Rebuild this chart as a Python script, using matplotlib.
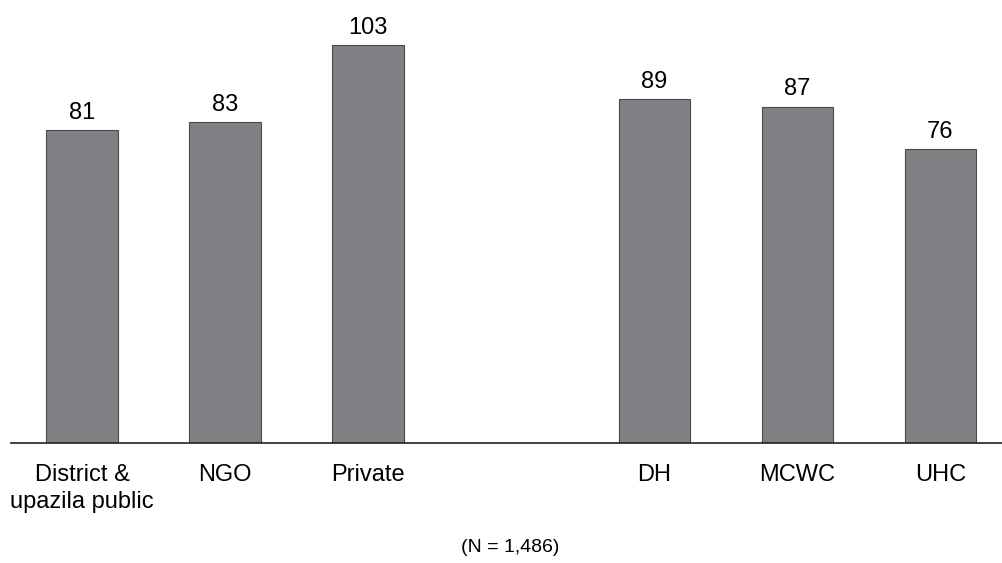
import matplotlib.pyplot as plt
import numpy as np

plt.rcParams['font.family'] = ['Liberation Sans', 'DejaVu Sans']

# Data
categories = ['District &\nupazila public', 'NGO', 'Private', 'DH', 'MCWC', 'UHC']
values = [81, 83, 103, 89, 87, 76]
positions = [0, 1, 2, 4, 5, 6]  # gap between the two groups

bar_color = '#818185'
edge_color = '#4a4a4a'

fig = plt.figure(figsize=(10.02, 5.63), dpi=100)
ax = fig.add_axes([11 / 1002, 120 / 563, 991 / 1002, 443 / 563])

bars = ax.bar(positions, values, width=0.5, color=bar_color,
              edgecolor=edge_color, linewidth=0.8)

for bar, val in zip(bars, values):
    ax.annotate(f'{val}', (bar.get_x() + bar.get_width() / 2, bar.get_height()),
                xytext=(0, 4.5), textcoords='offset points',
                ha='center', va='bottom', fontsize=17)

ax.set_xlim(-0.497, 6.43)
ax.set_ylim(0, 114.6)
ax.set_xticks(positions)
ax.set_xticklabels(categories, fontsize=17, linespacing=1.3)
ax.tick_params(axis='x', length=0, pad=15)
ax.set_yticks([])

for side in ['top', 'right', 'left']:
    ax.spines[side].set_visible(False)
ax.spines['bottom'].set_linewidth(1.2)
ax.spines['bottom'].set_color('#222222')

fig.text(510 / 1002, 1 - 548 / 563, '(N = 1,486)', ha='center', va='center', fontsize=14)

plt.savefig('out.png', dpi=100)
